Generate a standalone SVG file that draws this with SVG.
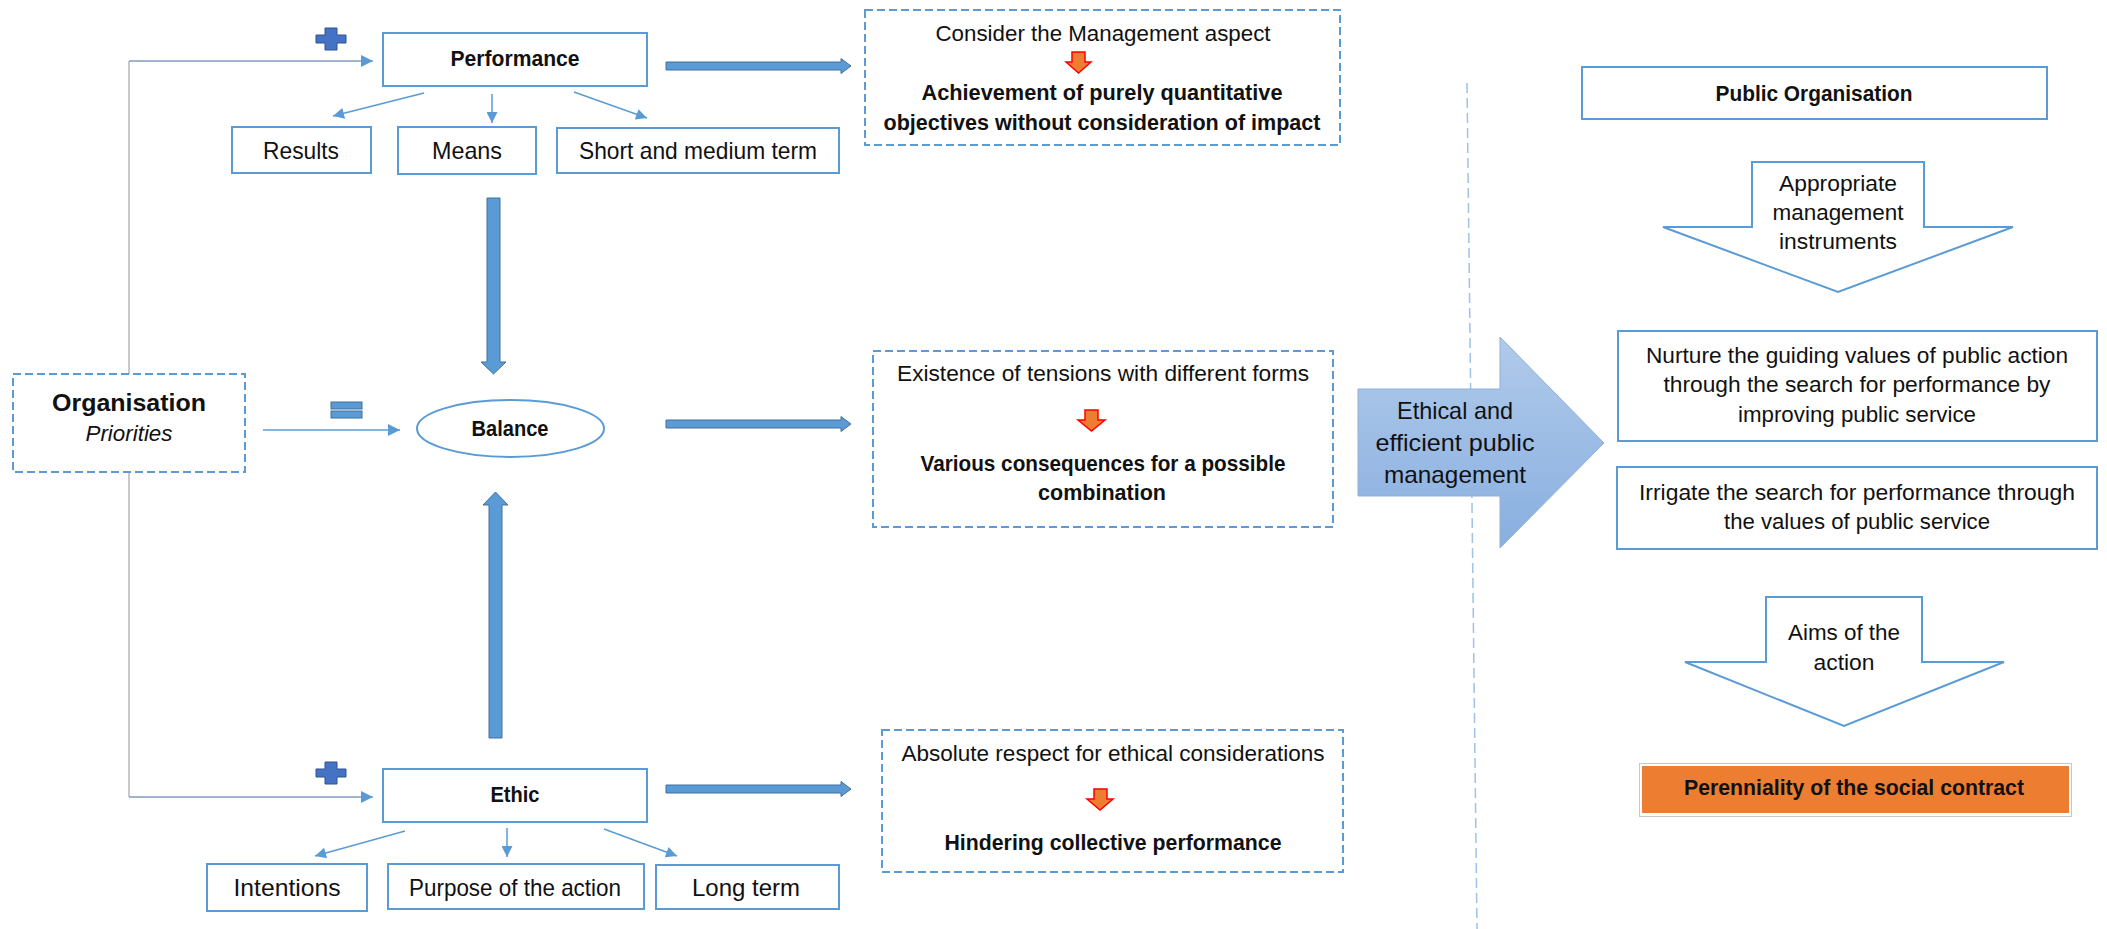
<svg xmlns="http://www.w3.org/2000/svg" width="2107" height="929" viewBox="0 0 2107 929">
<style>
.box{fill:#fff;stroke:#5B9BD5;stroke-width:2}
.dbox{fill:#fff;stroke:#5B9BD5;stroke-width:2;stroke-dasharray:8 4}
.t{font-family:"Liberation Sans",Arial,sans-serif;font-size:22px;fill:#111;text-anchor:middle}
.b{font-weight:bold}
.l{font-size:24px}
.i{font-style:italic}
.thin{stroke:#5B9BD5;stroke-width:1.5;fill:none}
.feed{stroke:#7F9DC0;stroke-width:1.5;fill:none}
.grey{stroke:#A6A6A6;stroke-width:1.2;fill:none}
.thick{fill:#5B9BD5;stroke:#41719C;stroke-width:1}
.red{fill:#ED7D31;stroke:#FF0000;stroke-width:1.5}
.sym{fill:#4472C4;stroke:#2F528F;stroke-width:1}
.eq{fill:#5B9BD5;stroke:#41719C;stroke-width:1}
.down{fill:#fff;stroke:#5B9BD5;stroke-width:2}
</style>
<defs>
<marker id="ah" viewBox="0 0 10 10" refX="10" refY="5" markerUnits="userSpaceOnUse" markerWidth="13" markerHeight="12" orient="auto">
<path d="M0,0 L10,5 L0,10 z" fill="#5B9BD5"/>
</marker>
<marker id="ahs" viewBox="0 0 10 10" refX="10" refY="5" markerUnits="userSpaceOnUse" markerWidth="12" markerHeight="11" orient="auto">
<path d="M0,0 L10,5 L0,10 z" fill="#5B9BD5"/>
</marker>
<linearGradient id="bg" x1="0" y1="0" x2="0" y2="1">
<stop offset="0" stop-color="#B1CAEA"/>
<stop offset="1" stop-color="#88AFE0"/>
</linearGradient>
</defs>
<rect width="2107" height="929" fill="#fff"/>

<g id="connectors">
<line class="grey" x1="129" y1="61" x2="129" y2="374"/>
<line class="grey" x1="129" y1="472" x2="129" y2="797"/>
<line class="feed" x1="129" y1="61" x2="373" y2="61" marker-end="url(#ah)"/>
<line class="feed" x1="129" y1="797" x2="373" y2="797" marker-end="url(#ah)"/>
<line class="thin" x1="263" y1="430" x2="400" y2="430" marker-end="url(#ah)"/>
<line class="thin" x1="424" y1="93" x2="333" y2="116" marker-end="url(#ahs)"/>
<line class="thin" x1="492" y1="94" x2="492" y2="123" marker-end="url(#ahs)"/>
<line class="thin" x1="574" y1="92" x2="647" y2="118" marker-end="url(#ahs)"/>
<line class="thin" x1="405" y1="831" x2="315" y2="856" marker-end="url(#ahs)"/>
<line class="thin" x1="507" y1="828" x2="507" y2="857" marker-end="url(#ahs)"/>
<line class="thin" x1="604" y1="829" x2="677" y2="856" marker-end="url(#ahs)"/>
<polygon class="thick" points="666,62 841,62 841,58.5 851,66 841,73.5 841,70 666,70"/>
<polygon class="thick" points="666,420 841,420 841,416.5 851,424 841,431.5 841,428 666,428"/>
<polygon class="thick" points="666,785 841,785 841,781.5 851,789 841,796.5 841,793 666,793"/>
<polygon class="thick" points="487,198 500,198 500,362 506,362 493.5,374 481,362 487,362"/>
<polygon class="thick" points="489,738 502,738 502,505 508,505 495.5,492 483,505 489,505"/>
<line x1="1467" y1="83" x2="1477" y2="929" stroke="#9DC3E6" stroke-width="1.5" stroke-dasharray="10 5"/>
</g>

<g id="plus-top"><polygon class="sym" points="325,28 337,28 337,35 346,35 346,43 337,43 337,50 325,50 325,43 316,43 316,35 325,35"/></g>
<g id="plus-bottom"><polygon class="sym" points="325,762 337,762 337,769 346,769 346,777 337,777 337,784 325,784 325,777 316,777 316,769 325,769"/></g>
<g id="equals"><rect class="eq" x="331" y="402" width="31" height="7"/><rect class="eq" x="331" y="411" width="31" height="7"/></g>

<g id="performance"><rect class="box" x="383" y="33" width="264" height="53"/><text class="t b" x="515" y="66" textLength="129" lengthAdjust="spacingAndGlyphs">Performance</text></g>
<g id="results"><rect class="box" x="232" y="127" width="139" height="46"/><text class="t l" x="301" y="159" textLength="76" lengthAdjust="spacingAndGlyphs">Results</text></g>
<g id="means"><rect class="box" x="398" y="127" width="138" height="47"/><text class="t l" x="467" y="159" textLength="70" lengthAdjust="spacingAndGlyphs">Means</text></g>
<g id="short-medium"><rect class="box" x="557" y="128" width="282" height="45"/><text class="t l" x="698" y="159" textLength="238" lengthAdjust="spacingAndGlyphs">Short and medium term</text></g>

<g id="organisation"><rect class="dbox" x="13" y="374" width="232" height="98"/><text class="t b l" x="129" y="411" textLength="154" lengthAdjust="spacingAndGlyphs">Organisation</text><text class="t i" x="129" y="441" textLength="87" lengthAdjust="spacingAndGlyphs">Priorities</text></g>

<g id="balance"><ellipse cx="510.5" cy="428.5" rx="93.5" ry="28.5" fill="#fff" stroke="#5B9BD5" stroke-width="2"/><text class="t b" x="510" y="436" textLength="77" lengthAdjust="spacingAndGlyphs">Balance</text></g>

<g id="ethic"><rect class="box" x="383" y="769" width="264" height="53"/><text class="t b" x="515" y="802" textLength="49" lengthAdjust="spacingAndGlyphs">Ethic</text></g>
<g id="intentions"><rect class="box" x="207" y="864" width="160" height="47"/><text class="t l" x="287" y="896" textLength="107" lengthAdjust="spacingAndGlyphs">Intentions</text></g>
<g id="purpose"><rect class="box" x="388" y="864" width="256" height="45"/><text class="t l" x="515" y="896" textLength="212" lengthAdjust="spacingAndGlyphs">Purpose of the action</text></g>
<g id="long-term"><rect class="box" x="656" y="865" width="183" height="44"/><text class="t l" x="746" y="896" textLength="108" lengthAdjust="spacingAndGlyphs">Long term</text></g>

<g id="management-aspect"><rect class="dbox" x="865" y="10" width="475" height="135"/>
<text class="t" x="1103" y="41" textLength="335" lengthAdjust="spacingAndGlyphs">Consider the Management aspect</text>
<polygon class="red" points="1072,52 1085,52 1085,62 1091,62 1078.5,73 1066,62 1072,62"/>
<text class="t b" x="1102" y="100" textLength="361" lengthAdjust="spacingAndGlyphs">Achievement of purely quantitative</text>
<text class="t b" x="1102" y="130" textLength="437" lengthAdjust="spacingAndGlyphs">objectives without consideration of impact</text></g>

<g id="tensions"><rect class="dbox" x="873" y="351" width="460" height="176"/>
<text class="t" x="1103" y="381" textLength="412" lengthAdjust="spacingAndGlyphs">Existence of tensions with different forms</text>
<polygon class="red" points="1085,410 1098,410 1098,420 1105,420 1091.5,431 1078,420 1085,420"/>
<text class="t b" x="1103" y="471" textLength="365" lengthAdjust="spacingAndGlyphs">Various consequences for a possible</text>
<text class="t b" x="1102" y="500" textLength="128" lengthAdjust="spacingAndGlyphs">combination</text></g>

<g id="ethical-respect"><rect class="dbox" x="882" y="730" width="461" height="142"/>
<text class="t" x="1113" y="761" textLength="423" lengthAdjust="spacingAndGlyphs">Absolute respect for ethical considerations</text>
<polygon class="red" points="1094,789 1107,789 1107,799 1113,799 1100,810 1087,799 1094,799"/>
<text class="t b" x="1113" y="850" textLength="337" lengthAdjust="spacingAndGlyphs">Hindering collective performance</text></g>

<g id="ethical-efficient"><polygon points="1358,389 1500,389 1500,337 1604,443 1500,548 1500,496 1358,496" fill="url(#bg)" stroke="#8FB0DA" stroke-width="1"/>
<text class="t l" x="1455" y="419" textLength="116" lengthAdjust="spacingAndGlyphs">Ethical and</text>
<text class="t l" x="1455" y="451" textLength="159" lengthAdjust="spacingAndGlyphs">efficient public</text>
<text class="t l" x="1455" y="483" textLength="142" lengthAdjust="spacingAndGlyphs">management</text></g>

<g id="public-organisation"><rect class="box" x="1582" y="67" width="465" height="52"/><text class="t b" x="1814" y="101" textLength="197" lengthAdjust="spacingAndGlyphs">Public Organisation</text></g>

<g id="instruments"><polygon class="down" points="1752,162 1924,162 1924,227 2013,227 1838,292 1663,227 1752,227"/>
<text class="t" x="1838" y="191" textLength="118" lengthAdjust="spacingAndGlyphs">Appropriate</text>
<text class="t" x="1838" y="220" textLength="131" lengthAdjust="spacingAndGlyphs">management</text>
<text class="t" x="1838" y="249" textLength="118" lengthAdjust="spacingAndGlyphs">instruments</text></g>

<g id="nurture"><rect class="box" x="1618" y="331" width="479" height="110"/>
<text class="t" x="1857" y="363" textLength="422" lengthAdjust="spacingAndGlyphs">Nurture the guiding values of public action</text>
<text class="t" x="1857" y="392" textLength="387" lengthAdjust="spacingAndGlyphs">through the search for performance by</text>
<text class="t" x="1857" y="422" textLength="238" lengthAdjust="spacingAndGlyphs">improving public service</text></g>

<g id="irrigate"><rect class="box" x="1617" y="467" width="480" height="82"/>
<text class="t" x="1857" y="500" textLength="436" lengthAdjust="spacingAndGlyphs">Irrigate the search for performance through</text>
<text class="t" x="1857" y="529" textLength="266" lengthAdjust="spacingAndGlyphs">the values of public service</text></g>

<g id="aims"><polygon class="down" points="1766,597 1922,597 1922,662 2004,662 1844,726 1685,662 1766,662"/>
<text class="t" x="1844" y="640" textLength="112" lengthAdjust="spacingAndGlyphs">Aims of the</text>
<text class="t" x="1844" y="670" textLength="61" lengthAdjust="spacingAndGlyphs">action</text></g>

<g id="perenniality"><rect x="1639.5" y="763.5" width="432" height="53" fill="#fff" stroke="#C8C8C8" stroke-width="1"/><rect x="1642" y="766" width="427" height="47" fill="#ED7D31"/>
<text class="t b" x="1854" y="795" textLength="340" lengthAdjust="spacingAndGlyphs">Perenniality of the social contract</text></g>
</svg>
